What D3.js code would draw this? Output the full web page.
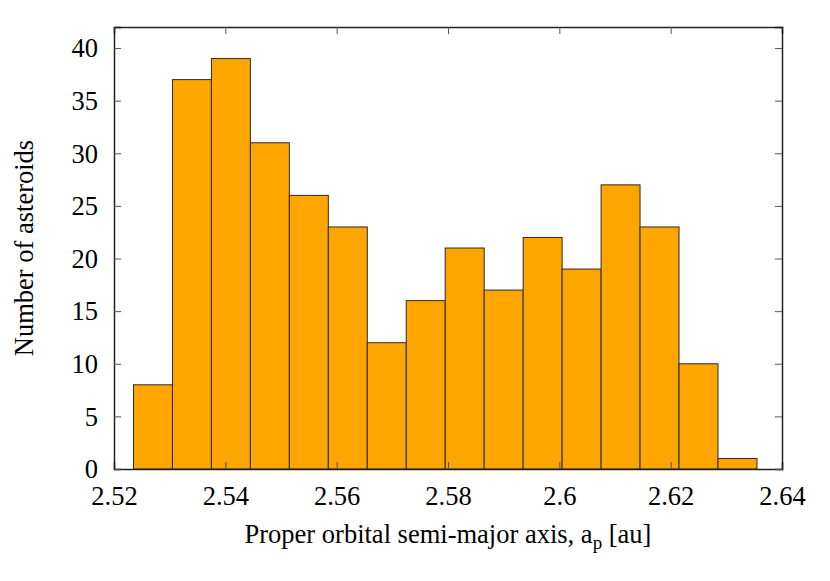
<!DOCTYPE html>
<html>
<head>
<meta charset="utf-8">
<script src="https://cdn.jsdelivr.net/npm/d3@7"></script>
<style>
  html, body { margin: 0; padding: 0; background: #fff; }
  svg text { font-family: "Liberation Serif", "Times New Roman", serif; fill: #000; }
</style>
</head>
<body>
<svg id="chart" width="830" height="581"></svg>
<script>
// Histogram data (bin edges in au, counts)
const binEdges = [2.5235, 2.5305, 2.5375, 2.5445, 2.5515, 2.5585, 2.5655, 2.5725, 2.5795,
                  2.5865, 2.5935, 2.6005, 2.6075, 2.6145, 2.6215, 2.6285, 2.6355];
const counts = [8, 37, 39, 31, 26, 23, 12, 16, 21, 17, 22, 19, 27, 23, 10, 1];
const xTicks = [2.52, 2.54, 2.56, 2.58, 2.6, 2.62, 2.64];
const yTicks = [0, 5, 10, 15, 20, 25, 30, 35, 40];
const xDomain = [2.52, 2.64];
const yDomain = [0, 42];
const xLabel = "Proper orbital semi-major axis, a";
const xLabelSub = "p";
const xLabelEnd = " [au]";
const yLabel = "Number of asteroids";

const svg = d3.select("#chart");
const m = { left: 114, right: 48, top: 27, bottom: 112 };
const W = 830, H = 581;
const x = d3.scaleLinear().domain(xDomain).range([m.left, W - m.right]);
const y = d3.scaleLinear().domain(yDomain).range([H - m.bottom, m.top]);

const bins = counts.map((c, i) => ({ x0: binEdges[i], x1: binEdges[i + 1], c }));

svg.append("g").selectAll("rect").data(bins).join("rect")
  .attr("x", d => x(d.x0))
  .attr("y", d => y(d.c))
  .attr("width", d => x(d.x1) - x(d.x0))
  .attr("height", d => y(0) - y(d.c))
  .attr("fill", "#FFA500")
  .attr("stroke", "#2b2b2b")
  .attr("stroke-width", 1);

const axisColor = "#222";
const tickColor = "#555";
const tickLen = 7;
const fs = 26.5;

const gB = svg.append("g").attr("transform", `translate(0,${y(0)})`)
  .call(d3.axisBottom(x).tickValues(xTicks).tickSize(-tickLen)
    .tickFormat(d => String(+d.toFixed(2))));
const gT = svg.append("g").attr("transform", `translate(0,${y(yDomain[1])})`)
  .call(d3.axisTop(x).tickValues(xTicks).tickSize(-tickLen).tickFormat(""));
const gL = svg.append("g").attr("transform", `translate(${x(xDomain[0])},0)`)
  .call(d3.axisLeft(y).tickValues(yTicks).tickSize(-tickLen));
const gR = svg.append("g").attr("transform", `translate(${x(xDomain[1])},0)`)
  .call(d3.axisRight(y).tickValues(yTicks).tickSize(-tickLen).tickFormat(""));

[gB, gT, gL, gR].forEach(g => {
  g.attr("font-family", null).attr("font-size", null);
  g.select(".domain").attr("stroke", axisColor).attr("stroke-width", 1.5);
  g.selectAll(".tick line").attr("stroke", tickColor).attr("stroke-width", 1);
  g.selectAll(".tick text").style("font-size", fs + "px").attr("fill", "#000");
});
gB.selectAll(".tick text").attr("y", 36).attr("dy", 0);
gL.selectAll(".tick text").attr("x", -16).attr("dy", "0.33em");

const xl = svg.append("text")
  .attr("x", (m.left + W - m.right) / 2)
  .attr("y", 543)
  .attr("text-anchor", "middle")
  .style("font-size", fs + "px");
xl.append("tspan").text(xLabel);
xl.append("tspan").style("font-size", "19px").attr("dy", 6).text(xLabelSub);
xl.append("tspan").attr("dy", -6).text(xLabelEnd);

svg.append("text")
  .attr("transform", `translate(33,${(m.top + H - m.bottom) / 2}) rotate(-90)`)
  .attr("text-anchor", "middle")
  .style("font-size", fs + "px")
  .text(yLabel);
</script>
</body>
</html>
